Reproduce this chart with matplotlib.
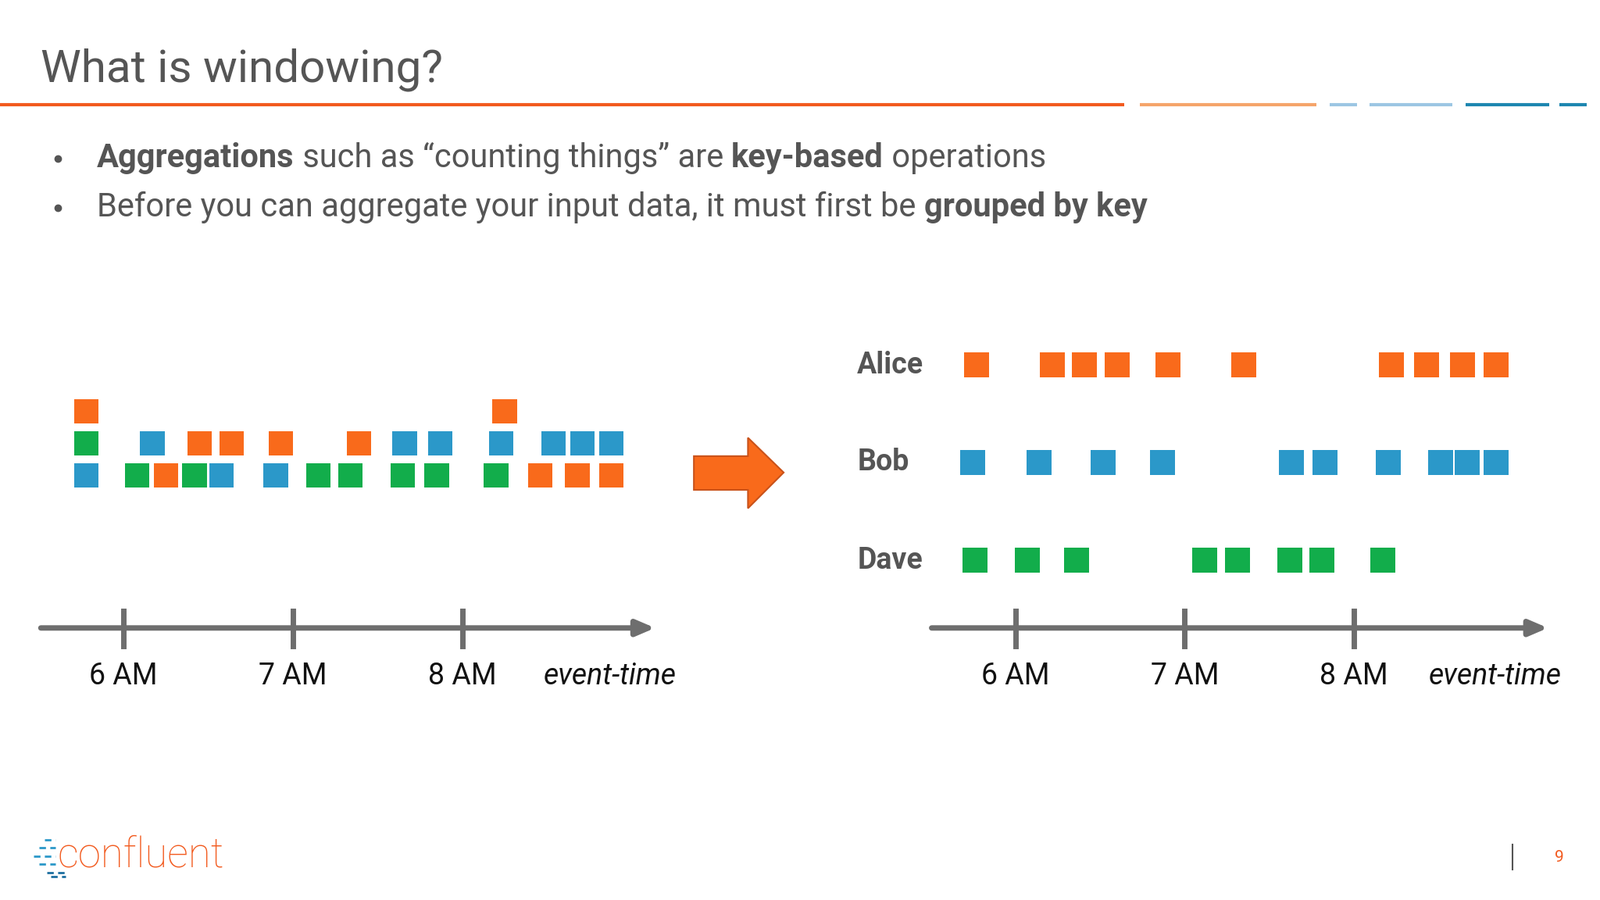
import matplotlib
matplotlib.use("Agg")
import matplotlib.pyplot as plt
from matplotlib.patches import Polygon

# ------------- DATA -------------
# left panel: event time (hours) , stack level, key
LEFT_TIMES = [5.78, 5.78, 5.78, 6.08, 6.17, 6.25, 6.42, 6.45, 6.58, 6.64, 6.90, 6.93,
              7.15, 7.34, 7.39, 7.65, 7.66, 7.85, 7.87, 8.20, 8.23, 8.25, 8.46, 8.54,
              8.68, 8.71, 8.88, 8.88]
LEFT_LEVELS = [0, 1, 2, 0, 1, 0, 0, 1, 0, 1, 0, 1,
               0, 0, 1, 0, 1, 0, 1, 0, 1, 2, 0, 1,
               0, 1, 1, 0]
LEFT_KEYS = ["Bob", "Dave", "Alice", "Dave", "Bob", "Alice", "Dave", "Alice", "Bob", "Alice", "Bob", "Alice",
             "Dave", "Dave", "Alice", "Dave", "Bob", "Dave", "Bob", "Dave", "Bob", "Alice", "Alice", "Bob",
             "Alice", "Bob", "Bob", "Alice"]

ALICE = [5.77, 6.22, 6.41, 6.60, 6.90, 7.35, 8.22, 8.43, 8.64, 8.84]
BOB = [5.75, 6.14, 6.52, 6.87, 7.63, 7.83, 8.20, 8.51, 8.67, 8.84]
DAVE = [5.76, 6.07, 6.36, 7.12, 7.31, 7.62, 7.81, 8.17]
KEYS = ["Alice", "Bob", "Dave"]

HOURS = [6, 7, 8]
HOUR_LABELS = ["6 AM", "7 AM", "8 AM"]
# ----------------------------------

COLORS = {"Alice": "#f96a1b", "Bob": "#2b98c9", "Dave": "#12ad4b"}
GRAY = "#6e6e6e"
FONT = "Roboto"
W, H = 1568, 880
PX_PER_HOUR = 166
SQ = 510  # marker area

fig = plt.figure(figsize=(20.48, 11.52), dpi=100)
fig.patch.set_facecolor("white")

# background axes in pixel coordinates for decorations
bg = fig.add_axes([0, 0, 1, 1])
bg.set_xlim(0, W)
bg.set_ylim(H, 0)
bg.axis("off")

bg.text(40, 68, "What is windowing?", fontsize=42, color="#555555", family=FONT, va="center")
for x0, x1, c in [(0, 1102, "#f25a1e"), (1117, 1290, "#f5a46a"), (1303, 1330, "#9cc6e3"),
                  (1342, 1423, "#9cc6e3"), (1436, 1518, "#1d86b0"), (1528, 1555, "#1d86b0")]:
    bg.plot([x0, x1], [102, 102], color=c, lw=3, solid_capstyle="butt")

for y in (155, 203):
    bg.plot(57, y, "o", color="#555555", ms=6)

fs = 30
t = bg.text(95, 155, "Aggregations", fontsize=fs, color="#555555", family=FONT, weight="bold", va="center")
fig.canvas.draw()


def append(prev, s, bold=False):
    bb = prev.get_window_extent()
    inv = bg.transData.inverted()
    x = inv.transform((bb.x1, bb.y0))[0]
    y = prev.get_position()[1]
    return bg.text(x, y, s, fontsize=fs, color="#555555", family=FONT,
                   weight="bold" if bold else "normal", va="center")


t = append(t, " such as \u201ccounting things\u201d are ")
t = append(t, "key-based", True)
append(t, " operations")
t = bg.text(95, 203, "Before you can aggregate your input data, it must first be ", fontsize=fs,
            color="#555555", family=FONT, va="center")
append(t, "grouped by key", True)

# big arrow
bg.add_patch(Polygon([(680, 446), (733, 446), (733, 428), (768, 462), (733, 497), (733, 479), (680, 479)],
                     closed=True, facecolor="#f96a1b", edgecolor="#c9521a", lw=1.5))

# logo and page number
bg.text(56, 836, "confluent", fontsize=38, color="#f25a1e", family=FONT, weight="light", va="center")
for x0, x1, y in [(44, 54, 821), (38, 54, 829), (33, 54, 837), (38, 54, 845), (46, 64, 853), (50, 64, 857)]:
    bg.plot([x0, x1], [y, y], color="#2b98c9" if y < 850 else "#1d6fa0", lw=2, dashes=(3, 2))
bg.plot([1482, 1482], [826, 850], color="#555555", lw=1.5)
bg.text(1528, 838, "9", fontsize=15, color="#f25a1e", family=FONT, va="center", ha="center")


def panel(px0, px1, zero_px):
    ax = fig.add_axes([px0 / W, 1 - 700 / H, (px1 - px0) / W, 400 / H])
    ax.set_xlim(6 + (px0 - zero_px) / PX_PER_HOUR, 6 + (px1 - zero_px) / PX_PER_HOUR)
    ax.set_ylim(700, 300)
    ax.axis("off")
    return ax


def time_axis(ax, x_start, x_end, label_x):
    ax.annotate("", xy=(x_end, 614), xytext=(x_start, 614),
                arrowprops=dict(arrowstyle="-|>,head_length=1.4,head_width=0.6", color=GRAY, lw=5,
                                shrinkA=0, shrinkB=0))
    for h, lab in zip(HOURS, HOUR_LABELS):
        ax.plot([h, h], [597, 632], color=GRAY, lw=5)
        ax.text(h, 661, lab, fontsize=27, family=FONT, ha="center", va="center", color="#111111")
    ax.text(label_x, 661, "event-time", fontsize=27, family=FONT, style="italic",
            ha="center", va="center", color="#111111")


# left panel
axl = panel(0, 700, 121)
ys = [465 - 31.5 * lv for lv in LEFT_LEVELS]
axl.scatter(LEFT_TIMES, ys, s=SQ, marker="s", c=[COLORS[k] for k in LEFT_KEYS], linewidths=0)
time_axis(axl, 6 + (40 - 121) / PX_PER_HOUR, 6 + (642 - 121) / PX_PER_HOUR, 6 + (598 - 121) / PX_PER_HOUR)

# right panel
axr = panel(820, 1568, 995)
row_y = [357, 452, 548]
for key, times, y in zip(KEYS, [ALICE, BOB, DAVE], row_y):
    axr.scatter(times, [y] * len(times), s=SQ, marker="s", color=COLORS[key], linewidths=0)
    axr.text(6 + (840 - 995) / PX_PER_HOUR, y, key, fontsize=27, family=FONT, weight="bold",
             color="#555555", va="center", ha="left")
time_axis(axr, 6 + (913 - 995) / PX_PER_HOUR, 6 + (1517 - 995) / PX_PER_HOUR, 6 + (1465 - 995) / PX_PER_HOUR)

fig.savefig("out.png", dpi=100)
